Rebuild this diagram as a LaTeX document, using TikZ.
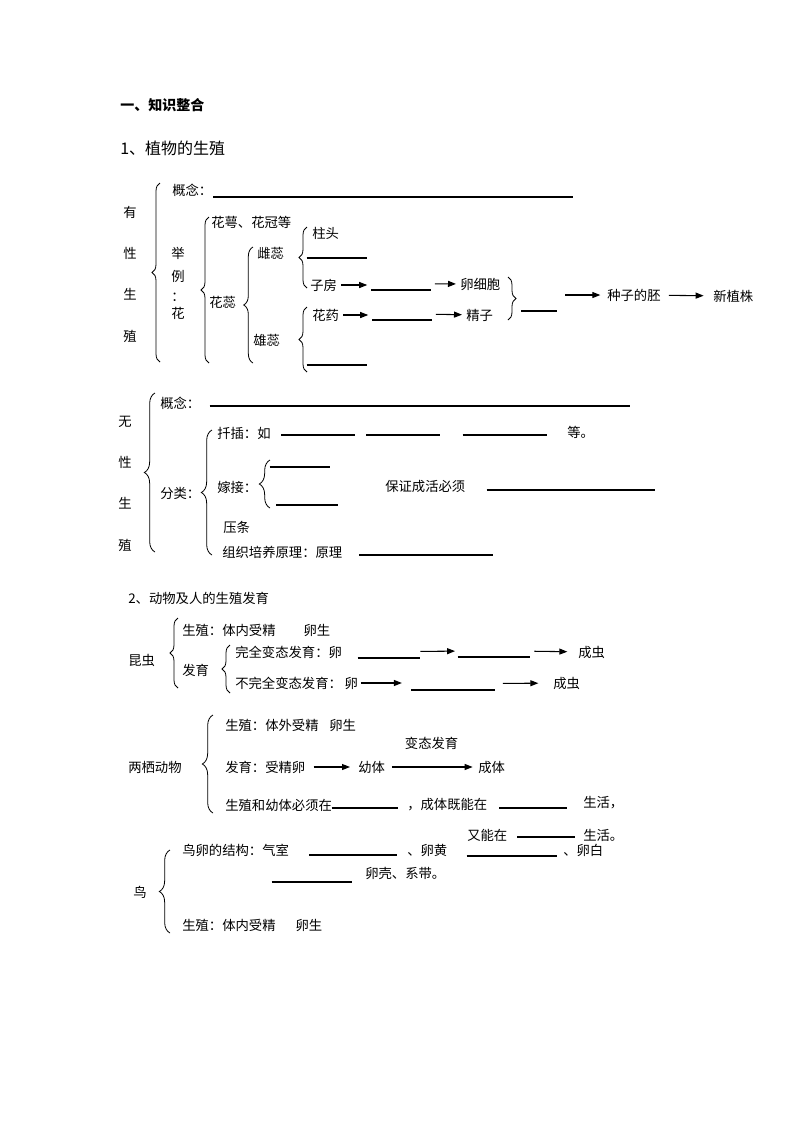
\documentclass[tikz,border=0pt]{standalone}
\usepackage{fontspec}
\setmainfont{Noto Sans CJK SC}
\usetikzlibrary{arrows.meta,decorations.pathreplacing}

\tikzset{
  txt/.style={anchor=west,inner sep=0pt,font=\fontsize{10pt}{12pt}\selectfont},
  chr/.style={inner sep=0pt,font=\fontsize{10pt}{12pt}\selectfont},
  blank/.style={anchor=south,inner sep=0pt,minimum height=9pt,minimum width=#1*0.75pt},
  arr/.style={-{Triangle[length=6pt,width=4.5pt]},line width=0.8pt,shorten <=3pt,shorten >=3pt},
  brc/.style={decorate,decoration={brace,amplitude=#1},line width=0.6pt},
  brc/.default=6pt,
}

\begin{document}
\begin{tikzpicture}[x=0.75pt,y=-0.75pt]
  \useasboundingbox (0,0) rectangle (793,1122);

  \node[txt,font=\fontsize{10.5pt}{12pt}\selectfont\bfseries] (title) at (120,105) {一、知识整合};
  \node[txt,font=\fontsize{12pt}{14pt}\selectfont] (sec1) at (120,148) {1、植物的生殖};

  % 有性生殖
  \foreach \c/\y in {有/212,性/253,生/294,殖/336}
    \node[chr] (yx\y) at (130,\y) {\c};
  \draw[brc] (160,362) -- (160,183);
  \node[txt] (gn1) at (172,190) {概念：};
  \node[blank=359] (b1) at (393,197) {};
  \foreach \c/\y in {举/253,例/276,：/297,花/313}
    \node[chr] (jl\y) at (178,\y) {\c};
  \draw[brc] (209,363) -- (209,217);
  \node[txt] (huae) at (211,222) {花萼、花冠等};
  \node[txt] (huarui) at (209,302) {花蕊};
  \draw[brc=7pt] (253,363) -- (253,247);
  \node[txt] (cirui) at (257,253) {雌蕊};
  \node[txt] (xiongrui) at (253,340) {雄蕊};
  \draw[brc] (307,288) -- (307,227);
  \node[txt] (zhutou) at (312,233) {柱头};
  \node[blank=60] (b2) at (337,258) {};
  \node[txt] (zifang) at (310,285) {子房};
  \node[blank=59] (b3) at (401,290) {};
  \node[txt] (luanxibao) at (460,284) {卵细胞};
  \draw[brc] (307,372) -- (307,307);
  \node[txt] (huayao) at (312,315) {花药};
  \node[blank=59] (b4) at (402,320) {};
  \node[txt] (jingzi) at (466,315) {精子};
  \node[blank=60] (b5) at (337,365) {};
  \draw[brc] (508,277) -- (508,320);
  \node[blank=35] (b6) at (539,311) {};
  \coordinate (shoujing) at (565,295);
  \node[txt] (pei) at (607,295) {种子的胚};
  \node[txt] (xinzhu) at (713,296) {新植株};

  \draw[arr] (zifang) -- (zifang -| b3.west);
  \draw[arr] (b3) -- (luanxibao);
  \draw[arr] (huayao) -- (huayao -| b4.west);
  \draw[arr] (b4) -- (jingzi);
  \draw[arr,shorten <=0pt,shorten >=5pt] (shoujing) -- (pei);
  \draw[arr,shorten <=6pt,shorten >=7pt] (pei) -- (xinzhu);

  % 无性生殖
  \foreach \c/\y in {无/422,性/462,生/503,殖/545}
    \node[chr] (wx\y) at (125,\y) {\c};
  \draw[brc=8pt] (155,552) -- (155,393);
  \node[txt] (gn2) at (160,403) {概念：};
  \node[blank=420] (b7) at (420,406) {};
  \node[txt] (fenlei) at (160,493) {分类：};
  \draw[brc=8pt] (212,555) -- (212,430);
  \node[txt] (qiancha) at (217,433) {扦插：如};
  \node[blank=73] (b8) at (318,435) {};
  \node[blank=73] (b9) at (403,435) {};
  \node[blank=84] (b10) at (505,435) {};
  \node[txt] (deng) at (567,432) {等。};
  \node[txt] (jiajie) at (217,487) {嫁接：};
  \draw[brc=8pt] (270,508) -- (270,460);
  \node[blank=60] (b11) at (300,467) {};
  \node[blank=61] (b12) at (307,505) {};
  \node[txt] (baozheng) at (385,486) {保证成活必须};
  \node[blank=168] (b13) at (571,490) {};
  \node[txt] (yatiao) at (223,527) {压条};
  \node[txt] (zuzhi) at (222,552) {组织培养原理：原理};
  \node[blank=133] (b14) at (426,555) {};

  % 昆虫
  \node[txt] (sec2) at (128,598) {2、动物及人的生殖发育};
  \node[txt] (kunchong) at (128,660) {昆虫};
  \draw[brc] (178,688) -- (178,618);
  \node[txt] (kcsz) at (182,630) {生殖：体内受精\hspace{21pt}卵生};
  \node[txt] (kcfy) at (182,670) {发育};
  \draw[brc] (230,693) -- (230,645);
  \node[txt] (wanquan) at (235,652) {完全变态发育：卵};
  \node[blank=62] (b15) at (389,658) {};
  \node[blank=72] (b16) at (494,657) {};
  \node[txt] (cc1) at (578,652) {成虫};
  \node[txt] (buwanquan) at (235,683) {不完全变态发育：\hspace{2pt}卵};
  \node[blank=83] (b17) at (453,690) {};
  \node[txt] (cc2) at (553,683) {成虫};
  \draw[arr,shorten <=0pt,shorten >=2pt] (b15) -- (b16);
  \draw[arr,shorten >=8pt] (b16) -- (cc1);
  \draw[arr,shorten <=2pt,shorten >=7pt] (buwanquan) -- (buwanquan -| b17.west);
  \draw[arr,shorten <=6pt,shorten >=11pt] (b17) -- (cc2);

  % 两栖动物
  \node[txt] (liangqi) at (128,767) {两栖动物};
  \draw[brc=8pt] (213,813) -- (213,715);
  \node[txt] (lqsz) at (225,725) {生殖：体外受精\hspace{8pt}卵生};
  \node[txt] (lqfy) at (225,767) {发育：受精卵};
  \node[txt] (youti) at (358,767) {幼体};
  \node[txt] (chengti) at (478,767) {成体};
  \draw[arr,shorten <=6pt,shorten >=6pt] (lqfy) -- (youti);
  \draw[arr,shorten <=5pt,shorten >=4pt] (youti) -- node[chr,above=13pt] (biantai) {变态发育} (chengti);
  \node[txt] (bixu) at (225,805) {生殖和幼体必须在};
  \node[blank=66] (b18) at (365,808) {};
  \node[txt] (jineng) at (407,805) {，成体既能在};
  \node[blank=67] (b19) at (533,808) {};
  \node[txt] (sh1) at (583,803) {生活，};
  \node[txt] (younengzai) at (467,835) {又能在};
  \node[blank=57] (b20) at (546,837) {};
  \node[txt] (sh2) at (583,835) {生活。};

  % 鸟
  \node[txt] (niao) at (133,892) {鸟};
  \draw[brc=8pt] (170,933) -- (170,850);
  \node[txt] (jiegou) at (182,850) {鸟卵的结构：气室};
  \node[blank=87] (b21) at (353,855) {};
  \node[txt] (luanhuang) at (407,850) {、卵黄};
  \node[blank=90] (b22) at (512,856) {};
  \node[txt] (luanbai) at (563,850) {、卵白};
  \node[blank=80] (b23) at (312,882) {};
  \node[txt] (luanke) at (365,873) {卵壳、系带。};
  \node[txt] (niaosz) at (182,925) {生殖：体内受精\hspace{15pt}卵生};

  % underlines
  \foreach \i in {1,...,23}
    \draw[line width=0.8pt] (b\i.south west) -- (b\i.south east);
\end{tikzpicture}
\end{document}
